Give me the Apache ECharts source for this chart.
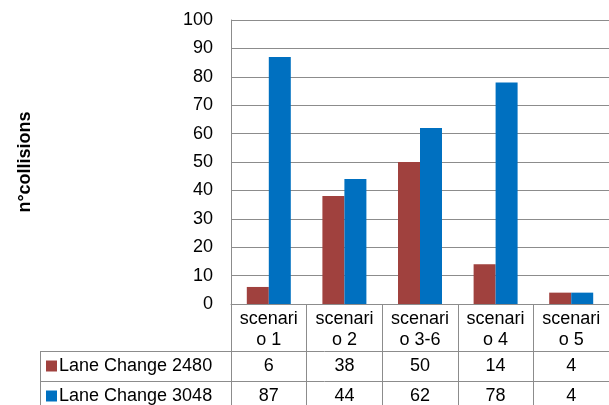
<!DOCTYPE html>
<html>
<head>
<meta charset="utf-8">
<script src="https://cdn.jsdelivr.net/npm/echarts@6/dist/echarts.min.js"></script>
<style>
  html, body { margin: 0; padding: 0; background: #fff; }
  #chart { width: 609px; height: 405px; }
</style>
</head>
<body>
<div id="chart"></div>
<script>
// Collision counts per scenario for the two lane-change variants
const categories = ['scenario 1', 'scenario 2', 'scenario 3-6', 'scenario 4', 'scenario 5'];
const seriesNames = ['Lane Change 2480', 'Lane Change 3048'];
const laneChange2480 = [6, 38, 50, 14, 4];
const laneChange3048 = [87, 44, 62, 78, 4];
const yTicks = { min: 0, max: 100, interval: 10 };

const colors = ['#A0413E', '#0070C0'];
const gridColor = '#8C8C8C';
const font = '"Liberation Sans", Arial, sans-serif';
const fs = 18;

const grid = { left: 231, right: 0, top: 20, bottom: 101 };
const W = 609, H = 405;
const tableTop = 351, rowH = 30, tableLeft = 40;

const chart = echarts.init(document.getElementById('chart'), null, { renderer: 'canvas' });

chart.setOption({
  animation: false,
  textStyle: { fontFamily: font },
  grid: grid,
  xAxis: {
    type: 'category',
    data: categories,
    boundaryGap: true,
    axisLine: { show: true, lineStyle: { color: gridColor, width: 1 } },
    axisTick: { show: true, length: grid.bottom, inside: false, lineStyle: { color: gridColor, width: 1 } },
    axisLabel: {
      margin: 5,
      color: '#000',
      fontSize: fs,
      lineHeight: 21,
      fontFamily: font,
      formatter: v => v.slice(0, 7) + '\n' + v.slice(7)
    },
    splitLine: { show: false }
  },
  yAxis: {
    type: 'value',
    min: yTicks.min,
    max: yTicks.max,
    interval: yTicks.interval,
    name: 'n°collisions',
    nameLocation: 'middle',
    nameRotate: 90,
    nameGap: 197,
    nameTextStyle: { color: '#000', fontSize: fs, fontWeight: 'bold', fontFamily: font },
    axisLine: { show: true, lineStyle: { color: gridColor, width: 1 } },
    axisTick: { show: false },
    axisLabel: { margin: 18, color: '#000', fontSize: fs, fontFamily: font },
    splitLine: { show: true, lineStyle: { color: gridColor, width: 1 } }
  },
  series: [
    {
      name: seriesNames[0], type: 'bar', data: laneChange2480,
      itemStyle: { color: colors[0] }, barWidth: 22, barGap: '0%'
    },
    {
      name: seriesNames[1], type: 'bar', data: laneChange3048,
      itemStyle: { color: colors[1] }, barWidth: 22, barGap: '0%'
    }
  ]
});

// Data table under the plot: horizontal rules, legend keys and values
const rows = [laneChange2480, laneChange3048];
const graphics = [];
const lineStyle = { stroke: gridColor, lineWidth: 1 };
[tableTop, tableTop + rowH].forEach(y => {
  graphics.push({ type: 'line', silent: true, shape: { x1: tableLeft, y1: y + 0.5, x2: W, y2: y + 0.5 }, style: lineStyle });
});
graphics.push({ type: 'line', silent: true, shape: { x1: tableLeft + 0.5, y1: tableTop, x2: tableLeft + 0.5, y2: H }, style: lineStyle });

rows.forEach((vals, r) => {
  const cy = tableTop + rowH * r + rowH / 2;
  graphics.push({
    type: 'rect', silent: true,
    shape: { x: 46, y: cy - 5.5, width: 11, height: 11 },
    style: { fill: colors[r] }
  });
  graphics.push({
    type: 'text', silent: true,
    style: { x: 59, y: cy, text: seriesNames[r], fill: '#000', font: fs + 'px ' + font, verticalAlign: 'middle', textVerticalAlign: 'middle' }
  });
  vals.forEach((v, i) => {
    const cx = chart.convertToPixel({ xAxisIndex: 0 }, i);
    graphics.push({
      type: 'text', silent: true,
      style: { x: cx, y: cy, text: String(v), fill: '#000', font: fs + 'px ' + font, align: 'center', textAlign: 'center', verticalAlign: 'middle', textVerticalAlign: 'middle' }
    });
  });
});

chart.setOption({ graphic: graphics });
</script>
</body>
</html>
